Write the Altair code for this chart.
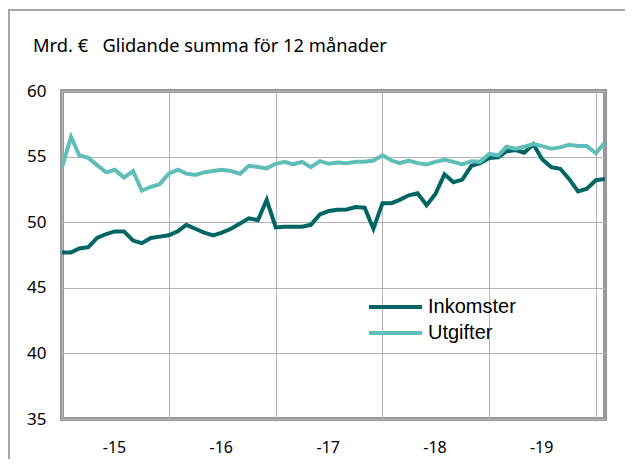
import altair as alt
import pandas as pd

# Monthly data, Jan 2015 .. Feb 2020 (62 months), 12-month rolling sums, bn EUR
inkomster = [47.7, 47.7, 48.0, 48.1, 48.8, 49.1, 49.3, 49.3, 48.6, 48.4, 48.8, 48.9,
             49.0, 49.3, 49.8, 49.5, 49.2, 49.0, 49.2, 49.5, 49.9, 50.3, 50.15, 51.7,
             49.6, 49.65, 49.65, 49.65, 49.8, 50.6, 50.85, 50.95, 50.97, 51.15, 51.1, 49.5,
             51.45, 51.45, 51.7, 52.05, 52.2, 51.3, 52.15, 53.65, 53.05, 53.25, 54.3, 54.5,
             54.9, 54.95, 55.4, 55.5, 55.3, 55.95, 54.8, 54.2, 54.07, 53.3, 52.35, 52.55,
             53.2, 53.3]
utgifter = [54.2, 56.5, 55.1, 54.9, 54.35, 53.8, 54.0, 53.4, 53.9, 52.4, 52.7, 52.9,
            53.7, 54.0, 53.7, 53.6, 53.8, 53.9, 54.0, 53.9, 53.7, 54.3, 54.2, 54.1,
            54.45, 54.6, 54.4, 54.6, 54.2, 54.65, 54.45, 54.55, 54.5, 54.6, 54.6, 54.7,
            55.1, 54.7, 54.5, 54.7, 54.5, 54.4, 54.6, 54.75, 54.6, 54.4, 54.65, 54.6,
            55.2, 55.1, 55.75, 55.6, 55.75, 55.95, 55.8, 55.6, 55.7, 55.9, 55.8, 55.8,
            55.25, 56.1]
months = pd.date_range("2015-01-01", periods=len(inkomster), freq="MS")
series_names = ["Inkomster", "Utgifter"]
series_colors = ["#006664", "#5fbfb8"]
year_ticks = ["2015-01-01", "2016-01-01", "2017-01-01", "2018-01-01", "2019-01-01", "2020-01-01"]
y_ticks = [35, 40, 45, 50, 55, 60]
title_text = "Mrd. €\u00a0\u00a0\u00a0Glidande summa för 12 månader"

df = pd.concat([
    pd.DataFrame({"date": months, "value": inkomster, "serie": "Inkomster"}),
    pd.DataFrame({"date": months, "value": utgifter, "serie": "Utgifter"}),
])

W, H = 543, 328
FONT = "Noto Sans"

x_scale = alt.Scale(domain=["2015-01-01", "2020-02-01"])
y_scale = alt.Scale(domain=[35, 60])

lines = alt.Chart(df).mark_line(strokeWidth=4, strokeJoin="miter", clip=True).encode(
    x=alt.X("date:T", scale=x_scale, title=None,
            axis=alt.Axis(values=year_ticks, grid=True, gridColor="#b4b4b4", gridWidth=1,
                          ticks=False, domain=False, labelFlush=False, labelOverlap=False,
                          labelExpr="year(datum.value) < 2020 ? '-' + (year(datum.value) % 100) : ''",
                          labelOffset=52, labelPadding=20, labelFont=FONT, labelFontSize=16,
                          labelColor="#000000", labelAngle=0)),
    y=alt.Y("value:Q", scale=y_scale, title=None,
            axis=alt.Axis(values=y_ticks, grid=True, gridColor="#b4b4b4", gridWidth=1,
                          ticks=False, domain=False, labelPadding=16, labelFont=FONT,
                          labelFontSize=17, labelColor="#000000")),
    color=alt.Color("serie:N", scale=alt.Scale(domain=series_names, range=series_colors),
                    legend=alt.Legend(title=None, orient="none", legendX=338, legendY=204,
                                      symbolType="M-4.3,0H1", symbolSize=400,
                                      symbolStrokeWidth=4, symbolFillColor="transparent",
                                      labelFont="Liberation Sans",
                                      labelFontSize=20, labelColor="#000000",
                                      labelOffset=4, rowPadding=4, labelLimit=200)),
)

# outer figure frame (decoration)
frame_left = alt.Chart(pd.DataFrame({"k": [0]})).mark_rule(color="#a6a6a6", strokeWidth=2).encode(
    x=alt.value(-53), y=alt.value(-82), y2=alt.value(H + 60))
frame_top = alt.Chart(pd.DataFrame({"k": [0]})).mark_rule(color="#a6a6a6", strokeWidth=2).encode(
    x=alt.value(-54), x2=alt.value(W + 30), y=alt.value(-81))

title = alt.Chart(pd.DataFrame({"t": [title_text]})).mark_text(
    align="left", baseline="alphabetic", font=FONT, fontSize=18.3, color="#000000"
).encode(text="t:N", x=alt.value(-29), y=alt.value(-39))

chart = alt.layer(frame_left, frame_top, title, lines).properties(
    width=W, height=H,
    background="white",
    autosize=alt.AutoSizeParams(type="none"),
    padding={"left": 54, "top": 83, "right": 20, "bottom": 40},
).configure_view(stroke="#999999", strokeWidth=4)

chart.save("out.html", embed_options={"renderer": "svg", "actions": False})
